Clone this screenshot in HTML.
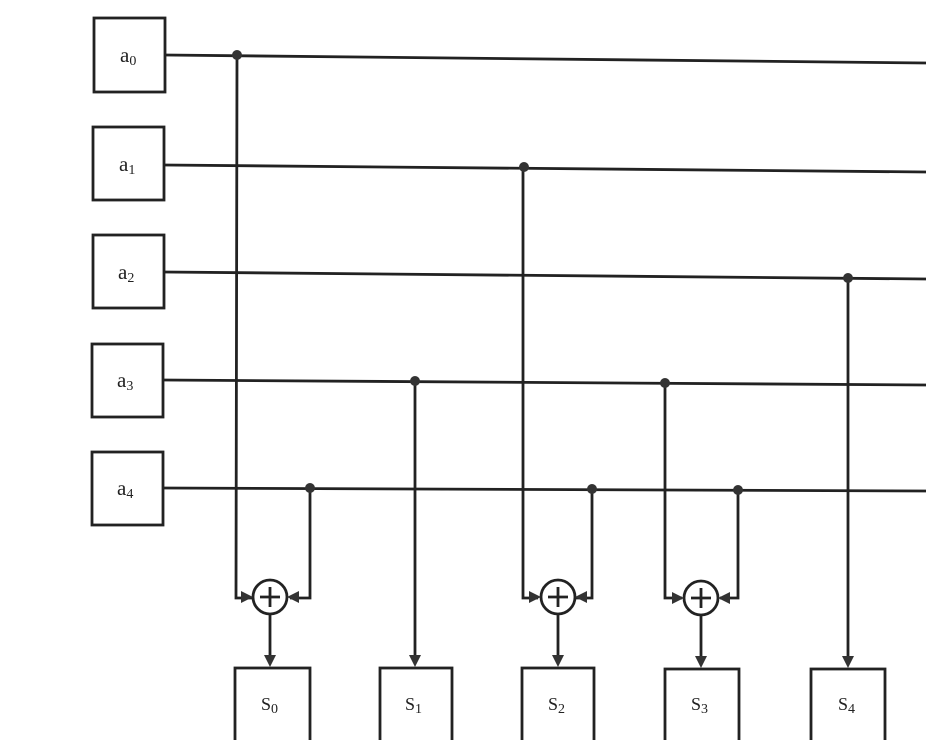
<!DOCTYPE html>
<html><head><meta charset="utf-8"><style>
html,body{margin:0;padding:0;background:#fff;width:926px;height:740px;overflow:hidden}
svg text{font-family:"Liberation Serif",serif;fill:#222}
</style></head><body>
<svg width="926" height="740" viewBox="0 0 926 740" xmlns="http://www.w3.org/2000/svg">
<g stroke="#222" stroke-width="2.8" fill="none">
<rect x="94" y="18" width="71" height="74"/>
<rect x="93" y="127" width="71" height="73"/>
<rect x="93" y="235" width="71" height="73"/>
<rect x="92" y="344" width="71" height="73"/>
<rect x="92" y="452" width="71" height="73"/>
<line x1="165" y1="55" x2="926" y2="63"/>
<line x1="164" y1="165" x2="926" y2="172"/>
<line x1="164" y1="272" x2="926" y2="279"/>
<line x1="163" y1="380" x2="926" y2="385"/>
<line x1="163" y1="488" x2="926" y2="491"/>
<polyline points="237,56 236,598 252,598"/>
<polyline points="310,488 310,598 290,598"/>
<line x1="270" y1="615" x2="270" y2="660"/>
<line x1="415" y1="381" x2="415" y2="660"/>
<polyline points="523,167 523,598 538,598"/>
<polyline points="592,489 592,598 576,598"/>
<line x1="558" y1="615" x2="558" y2="660"/>
<polyline points="665,383 665,598 682,598"/>
<polyline points="738,490 738,598 720,598"/>
<line x1="701" y1="616" x2="701" y2="660"/>
<line x1="848" y1="278" x2="848" y2="660"/>
<circle cx="270" cy="597" r="17"/>
<circle cx="558" cy="597" r="17"/>
<circle cx="701" cy="598" r="17"/>
<path d="M270 587v20M260 597h20M558 587v20M548 597h20M701 588v20M691 598h20"/>
<rect x="235" y="668" width="75" height="80"/>
<rect x="380" y="668" width="72" height="80"/>
<rect x="522" y="668" width="72" height="80"/>
<rect x="665" y="669" width="74" height="80"/>
<rect x="811" y="669" width="74" height="80"/>
</g>
<g fill="#333">
<circle cx="237" cy="55" r="5"/>
<circle cx="524" cy="167" r="5"/>
<circle cx="848" cy="278" r="5"/>
<circle cx="415" cy="381" r="5"/>
<circle cx="665" cy="383" r="5"/>
<circle cx="310" cy="488" r="5"/>
<circle cx="592" cy="489" r="5"/>
<circle cx="738" cy="490" r="5"/>
<path d="M264,655 l12,0 l-6,12z M409,655 l12,0 l-6,12z M552,655 l12,0 l-6,12z M695,656 l12,0 l-6,12z M842,656 l12,0 l-6,12z"/>
<path d="M253,597 l-12,-6 l0,12z M287,597 l12,-6 l0,12z M541,597 l-12,-6 l0,12z M575,597 l12,-6 l0,12z M684,598 l-12,-6 l0,12z M718,598 l12,-6 l0,12z"/>
</g>
<g font-size="21">
<text x="120" y="62">a<tspan font-size="14" dy="3">0</tspan></text>
<text x="119" y="171">a<tspan font-size="14" dy="3">1</tspan></text>
<text x="118" y="279">a<tspan font-size="14" dy="3">2</tspan></text>
<text x="117" y="387">a<tspan font-size="14" dy="3">3</tspan></text>
<text x="117" y="495">a<tspan font-size="14" dy="3">4</tspan></text>
</g>
<g font-size="18">
<text x="261" y="710">S<tspan font-size="14" dy="3">0</tspan></text>
<text x="405" y="710">S<tspan font-size="14" dy="3">1</tspan></text>
<text x="548" y="710">S<tspan font-size="14" dy="3">2</tspan></text>
<text x="691" y="710">S<tspan font-size="14" dy="3">3</tspan></text>
<text x="838" y="710">S<tspan font-size="14" dy="3">4</tspan></text>
</g>
</svg>
</body></html>
